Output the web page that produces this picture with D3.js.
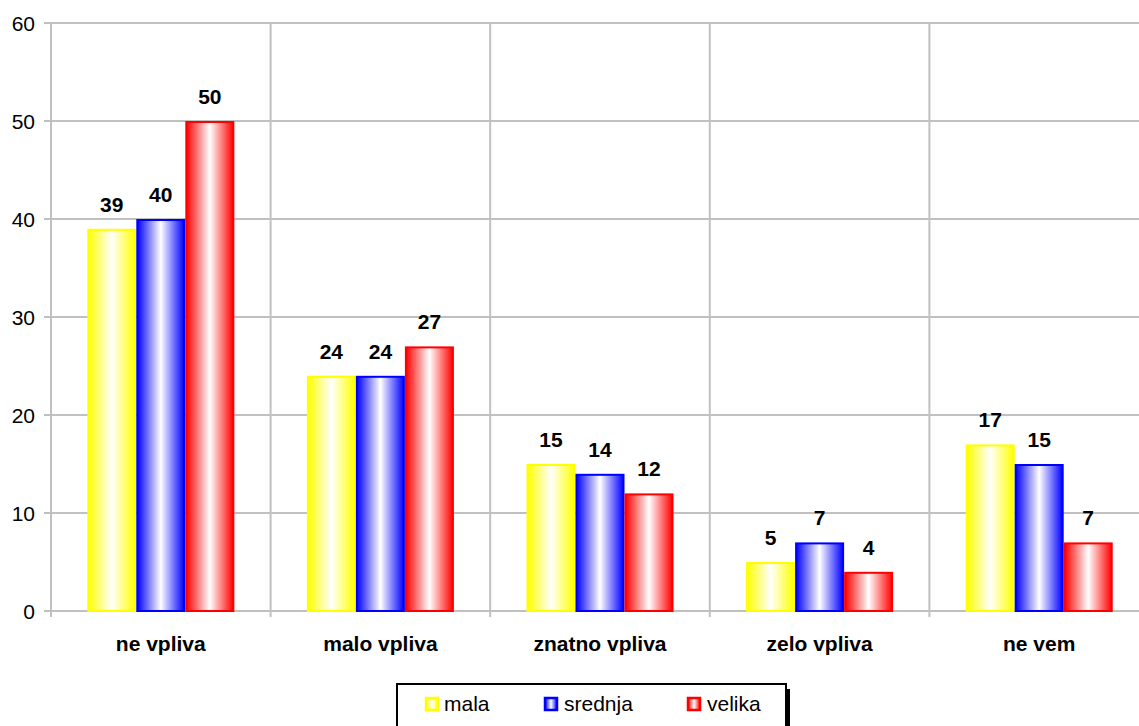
<!DOCTYPE html>
<html><head><meta charset="utf-8">
<script src="https://cdn.jsdelivr.net/npm/d3@7"></script>
<style>body{margin:0;background:#fff;}svg{display:block;font-family:Arial,"Liberation Sans",sans-serif;}</style>
</head><body>
<svg id="c" width="1139" height="726"></svg>
<script>
const categories = ["ne vpliva","malo vpliva","znatno vpliva","zelo vpliva","ne vem"];
const seriesNames = ["mala","srednja","velika"];
const mala = [39,24,15,5,17];
const srednja = [40,24,14,7,15];
const velika = [50,27,12,4,7];
const yTicks = [0,10,20,30,40,50,60];
const colors = ["#ffff00","#0000ff","#ff0000"];
const seriesValues = [mala, srednja, velika];

const svg = d3.select("#c");
const plotLeft = 51, plotTop = 23, plotBottom = 611, catW = 219.6;
const x = d3.scaleBand().domain(categories).range([plotLeft, plotLeft + catW*categories.length]).paddingInner(0).paddingOuter(0);
const xs = d3.scaleBand().domain(seriesNames).range([0, x.bandwidth()]).paddingInner(0).paddingOuter(0.74);
const y = d3.scaleLinear().domain([0,60]).range([plotBottom, plotTop]);

const defs = svg.append("defs");
colors.forEach((c,i)=>{
  const g = defs.append("linearGradient").attr("id","g"+i).attr("x1","0").attr("x2","1").attr("y1","0").attr("y2","0");
  g.append("stop").attr("offset","0%").attr("stop-color",c);
  g.append("stop").attr("offset","50%").attr("stop-color","#fff");
  g.append("stop").attr("offset","100%").attr("stop-color",c);
});

// grid
svg.append("g").selectAll("line").data(yTicks).join("line")
  .attr("x1", plotLeft-7).attr("x2", 1139).attr("y1", d=>y(d)).attr("y2", d=>y(d))
  .attr("stroke","#c0c0c0").attr("stroke-width",2);
const vx = categories.map((c,i)=>x(c)).concat([x(categories[4])+x.bandwidth()]);
svg.append("g").selectAll("line").data(vx).join("line")
  .attr("x1", d=>d).attr("x2", d=>d).attr("y1", plotTop).attr("y2", plotBottom+6)
  .attr("stroke","#c0c0c0").attr("stroke-width",2);

// y labels
svg.append("g").selectAll("text").data(yTicks).join("text")
  .attr("x", 35).attr("y", d=>y(d)+8).attr("text-anchor","end")
  .attr("font-size","21px").attr("fill","#000").text(d=>d);

// bars
seriesValues.forEach((vals,si)=>{
  const g = svg.append("g");
  g.selectAll("rect").data(vals).join("rect")
    .attr("x",(d,i)=>x(categories[i])+xs(seriesNames[si])+1)
    .attr("width", xs.bandwidth()-2)
    .attr("y", d=>y(d)+1)
    .attr("height", d=>y(0)-y(d)-1)
    .attr("fill","url(#g"+si+")").attr("stroke",colors[si]).attr("stroke-width",2);
  g.selectAll("text").data(vals).join("text")
    .attr("x",(d,i)=>x(categories[i])+xs(seriesNames[si])+xs.bandwidth()/2)
    .attr("y", d=>y(d)-17)
    .attr("text-anchor","middle").attr("font-weight","bold").attr("font-size","21px")
    .text(d=>d);
});

// category labels
svg.append("g").selectAll("text").data(categories).join("text")
  .attr("x", d=>x(d)+x.bandwidth()/2).attr("y", 651)
  .attr("text-anchor","middle").attr("font-weight","bold").attr("font-size","21px").text(d=>d);

// legend
const lg = svg.append("g");
lg.append("rect").attr("x",401).attr("y",689).attr("width",389).attr("height",50).attr("fill","#000");
lg.append("rect").attr("x",397).attr("y",684).attr("width",389).attr("height",50).attr("fill","#fff").attr("stroke","#000").attr("stroke-width",2);
const lx = [426, 545, 688];
const tx = [444, 564, 707];
seriesNames.forEach((s,i)=>{
  lg.append("rect").attr("x",lx[i]).attr("y",698).attr("width",12).attr("height",12)
    .attr("fill","url(#g"+i+")").attr("stroke",colors[i]).attr("stroke-width",2.5);
  lg.append("text").attr("x",tx[i]).attr("y",711).attr("font-size","21px").text(s);
});
</script>
</body></html>
